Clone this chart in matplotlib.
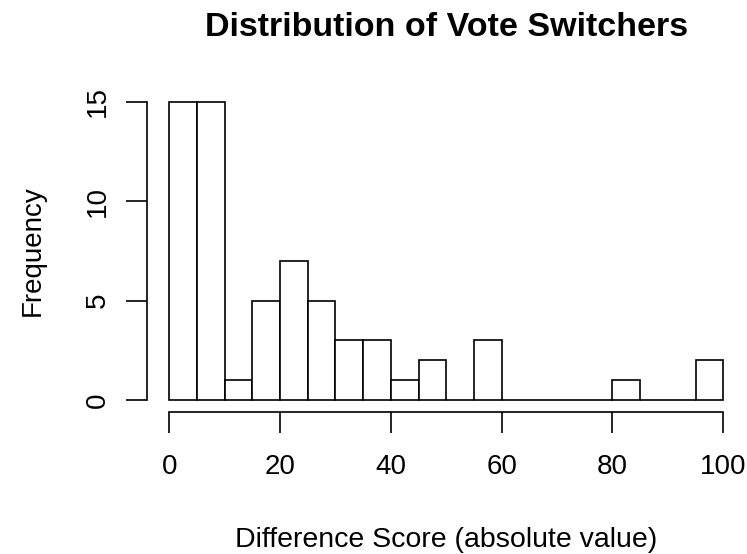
import numpy as np
import matplotlib
matplotlib.use('Agg')
import matplotlib.pyplot as plt

plt.rcParams['font.family'] = ['Liberation Sans', 'DejaVu Sans']

# ── Histogram data (bins of width 5) ─────────────────────────────────────────
bin_edges = list(range(0, 105, 5))
counts = [15, 15, 1, 5, 7, 5, 3, 3, 1, 2, 0, 3, 0, 0, 0, 0, 1, 0, 0, 2]
x_ticks = [0, 20, 40, 60, 80, 100]
y_ticks = [0, 5, 10, 15]

fig = plt.figure(figsize=(7.47, 5.54), dpi=100)
ax = fig.add_axes([147 / 747, 142 / 554, (745.5 - 147) / 747, (464 - 142) / 554])

lefts = bin_edges[:-1]
widths = [b - a for a, b in zip(bin_edges[:-1], bin_edges[1:])]
ax.bar(lefts, counts, width=widths, align='edge', color='white',
       edgecolor='black', linewidth=1.2)

# R-style axes: no box, spines only across the tick range
ax.set_xlim(-4, 104)
ax.set_ylim(-0.6, 15.6)
for side in ['top', 'right']:
    ax.spines[side].set_visible(False)
ax.spines['left'].set_bounds(0, 15)
ax.spines['bottom'].set_bounds(0, 100)
ax.spines['left'].set_linewidth(1.2)
ax.spines['bottom'].set_linewidth(1.2)

ax.set_xticks(x_ticks)
ax.set_yticks(y_ticks)
ax.set_yticklabels([str(v) for v in y_ticks], rotation=90, va='center')
ax.tick_params(axis='both', length=15, width=1.2, labelsize=20)
ax.tick_params(axis='x', pad=15)
ax.tick_params(axis='y', pad=11)

ax.set_title('Distribution of Vote Switchers', fontsize=24.5, fontweight='bold', pad=39)
ax.set_xlabel('Difference Score (absolute value)', fontsize=20.5, labelpad=34)
ax.set_ylabel('Frequency', fontsize=20, labelpad=28)

fig.savefig('out.png', dpi=100)
